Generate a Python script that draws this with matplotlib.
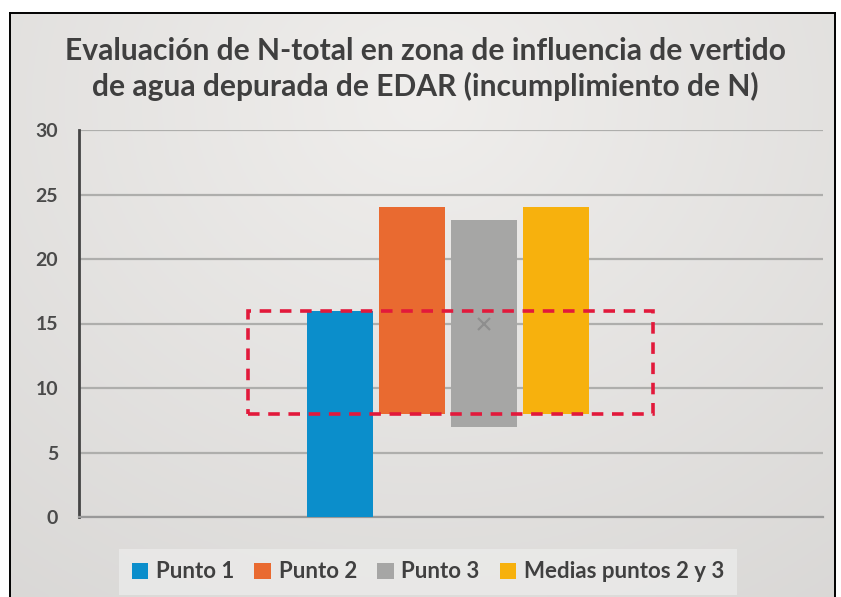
import numpy as np
import matplotlib.pyplot as plt
from matplotlib.patches import Rectangle

# data
series = ["Punto 1", "Punto 2", "Punto 3", "Medias puntos 2 y 3"]
lows = [0, 8, 7, 8]
highs = [16, 24, 23, 24]
mean_p3 = 15
band_low, band_high = 8, 16
yticks = [0, 5, 10, 15, 20, 25, 30]

colors = ["#0b8ecb", "#e96a30", "#a6a6a5", "#f7b10d"]
title = ("Evaluación de N-total en zona de influencia de vertido\n"
         "de agua depurada de EDAR (incumplimiento de N)")

plt.rcParams['font.family'] = ['Lato', 'DejaVu Sans']

fig = plt.figure(figsize=(8.41, 5.97), dpi=100)
fig.patch.set_facecolor("white")

# background gradient inside the frame
bg = fig.add_axes([10 / 841, 0, 825 / 841, 1 - 13 / 597])
yy, xx = np.mgrid[0:1:200j, 0:1:300j]
r = np.sqrt(((xx - 0.5) / 0.9) ** 2 + ((yy - 0.15) / 1.1) ** 2)
shade = 0.94 - 0.09 * np.clip(r, 0, 1)
img = np.dstack([shade, shade * 0.993, shade * 0.985])
bg.imshow(img, aspect="auto", extent=[0, 1, 0, 1], origin="upper")
bg.set_xlim(0, 1)
bg.set_ylim(0, 1)
bg.set_xticks([])
bg.set_yticks([])
for s in ["left", "top", "right"]:
    bg.spines[s].set_color("black")
    bg.spines[s].set_linewidth(1.4)
bg.spines["bottom"].set_visible(False)

ax = fig.add_axes([79 / 841, 1 - 517 / 597, 744 / 841, 387 / 597])
ax.patch.set_alpha(0)
x = np.arange(len(series))
heights = [h - l for l, h in zip(lows, highs)]
bars = ax.bar(x, heights, bottom=lows, width=0.92, color=colors, zorder=3)

ax.plot(x[2], mean_p3, marker="x", color="#8e8e8e", markersize=9, mew=1.6, zorder=4)

ax.add_patch(Rectangle((-1.28, band_low), 5.63, band_high - band_low,
                       fill=False, ec="#e2193b", lw=2.6, ls=(0, (3.2, 2.4)), zorder=5))

ax.set_xlim(-3.625, 6.71)
ax.set_ylim(0, 30)
ax.set_yticks(yticks)
ax.set_xticks([])
ax.grid(axis="y", color="#aeaeac", lw=1.6, zorder=0)
ax.tick_params(axis="y", length=0, pad=15, labelsize=14, labelcolor="#4a4a4a")
for lab in ax.get_yticklabels():
    lab.set_fontweight("bold")
for s in ["top", "right"]:
    ax.spines[s].set_visible(False)
ax.spines["left"].set_color("#444444")
ax.spines["left"].set_linewidth(2)
ax.spines["bottom"].set_color("#999999")
ax.spines["bottom"].set_linewidth(1.6)

fig.text(0.506, 1 - 69 / 597, title, ha="center", va="center", fontsize=21.6,
         fontweight="bold", color="#3f3f3f", linespacing=1.3)

leg = fig.legend(bars, series, loc="center", bbox_to_anchor=(428 / 841, 1 - 572 / 597),
                 ncol=4, frameon=True, fontsize=16, handlelength=0.75, handleheight=0.75,
                 handletextpad=0.35, columnspacing=0.9, borderpad=0.55)
leg.get_frame().set_facecolor("#ebebea")
leg.get_frame().set_edgecolor("none")
leg.get_frame().set_boxstyle("square", pad=0)
for t in leg.get_texts():
    t.set_fontweight("bold")
    t.set_color("#404040")

fig.savefig("out.png", dpi=100)
